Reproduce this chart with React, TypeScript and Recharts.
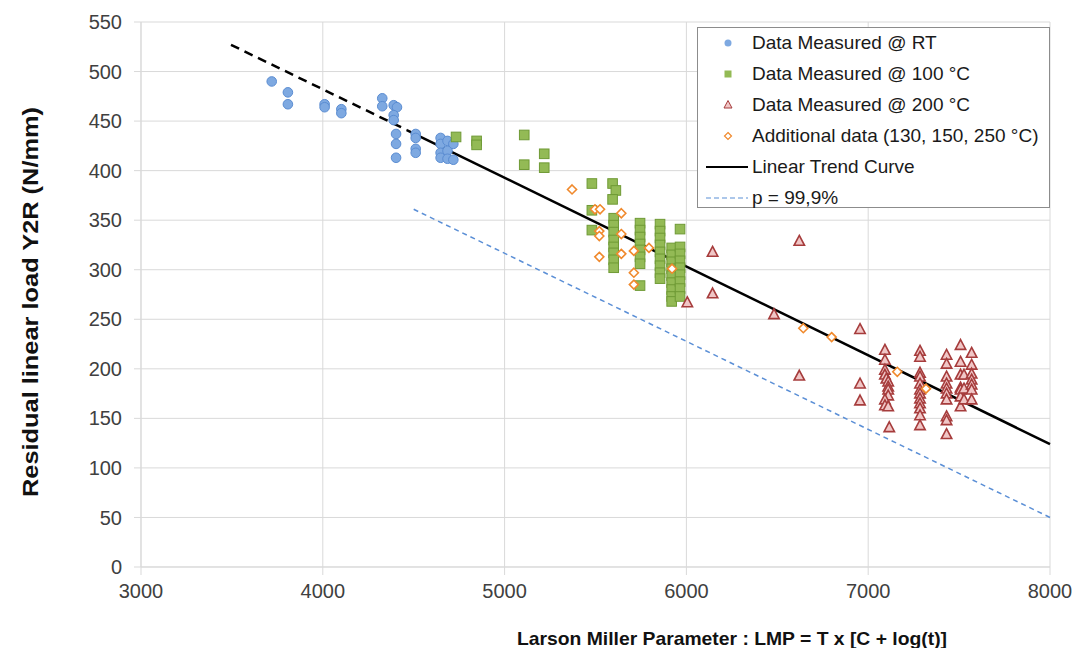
import React from 'react';
import { ScatterChart, Scatter, XAxis, YAxis, CartesianGrid, ReferenceLine } from 'recharts';

const FONT = '"Liberation Sans", Arial, sans-serif';

const xTicks = [3000, 4000, 5000, 6000, 7000, 8000];
const yTicks = [0, 50, 100, 150, 200, 250, 300, 350, 400, 450, 500, 550];

// [LMP, Y2R]
const rtData: [number, number][] = [
	[3719, 490], [3808, 479], [3808, 467], [4010, 467], [4010, 464], [4102, 462], [4102, 458],
	[4327, 473], [4327, 465], [4390, 466], [4408, 464], [4390, 456], [4390, 451],
	[4403, 437], [4403, 427], [4403, 413], [4511, 437], [4511, 433], [4511, 422], [4511, 418],
	[4648, 433], [4648, 427], [4648, 418], [4648, 413], [4686, 430], [4686, 420], [4686, 412],
	[4718, 427], [4718, 411],
];

const data100: [number, number][] = [
	[4733, 434], [4846, 430], [4846, 426], [5108, 436], [5108, 406], [5218, 417], [5218, 403],
	[5480, 387], [5480, 360], [5480, 340], [5594, 387], [5612, 380], [5594, 371],
	[5600, 352], [5600, 345], [5600, 338], [5600, 330], [5600, 323], [5600, 317], [5600, 310], [5600, 302],
	[5745, 347], [5745, 340], [5745, 333], [5745, 326], [5745, 320], [5745, 313], [5745, 306], [5745, 284],
	[5855, 346], [5855, 339], [5855, 332], [5855, 325], [5855, 318], [5855, 311], [5855, 304], [5855, 297], [5855, 291],
	[5965, 341], [5919, 322], [5919, 315], [5919, 308], [5919, 301], [5919, 294], [5919, 287], [5919, 280], [5919, 273], [5919, 268],
	[5965, 323], [5965, 316], [5965, 309], [5965, 302], [5965, 295], [5965, 288], [5965, 281], [5965, 273],
];

const data200: [number, number][] = [
	[6005, 267], [6144, 318], [6144, 276], [6621, 329], [6621, 193], [6482, 255],
	[6955, 240], [6955, 185], [6955, 168],
	[7092, 219], [7092, 209], [7092, 199], [7092, 194], [7100, 190], [7110, 187], [7110, 182], [7110, 179], [7110, 173],
	[7092, 169], [7092, 163], [7110, 162], [7116, 141],
	[7285, 218], [7285, 212], [7285, 196], [7285, 192], [7285, 185], [7285, 179], [7285, 175], [7285, 170], [7285, 165], [7285, 160], [7285, 153], [7285, 143],
	[7431, 214], [7431, 205], [7431, 192], [7431, 185], [7431, 180], [7431, 175], [7431, 169], [7431, 152], [7431, 148], [7431, 134],
	[7508, 224], [7508, 207], [7508, 194], [7508, 181], [7508, 179], [7508, 172], [7508, 162],
	[7527, 194], [7527, 180], [7527, 169],
	[7569, 216], [7569, 204], [7569, 195], [7569, 189], [7569, 184], [7569, 179], [7569, 169],
];

const additionalData: [number, number][] = [
	[5371, 381], [5497, 361], [5525, 361], [5642, 357], [5521, 339], [5521, 334], [5642, 336],
	[5521, 313], [5642, 316], [5711, 319], [5794, 322], [5711, 297], [5711, 285], [5921, 301],
	[6643, 241], [6799, 232], [7160, 197], [7318, 180],
];

const trendDashed: [number, number][] = [[3495, 527], [4462, 441]];
const trendSolid: [number, number][] = [[4462, 441], [8000, 124]];
const p999Line: [number, number][] = [[4500, 361], [8000, 50]];

const toPts = (arr: [number, number][]) => arr.map(([x, y]) => ({ x, y }));

const COL = {
	rtFill: '#7ea9e1',
	rtStroke: '#5b8dd2',
	g100Fill: '#93ba55',
	g100Stroke: '#6f9a35',
	r200Fill: '#f0c6c6',
	r200Stroke: '#a63c3c',
	addStroke: '#f0892c',
	pLine: '#5b8fd6',
};

const CircleShape = (p: any) => <circle cx={p.cx} cy={p.cy} r={4.8} fill={COL.rtFill} stroke={COL.rtStroke} strokeWidth={1} />;
const SquareShape = (p: any) => <rect x={p.cx - 4.8} y={p.cy - 4.8} width={9.6} height={9.6} fill={COL.g100Fill} stroke={COL.g100Stroke} strokeWidth={1} />;
const TriangleShape = (p: any) => (
	<path d={`M${p.cx},${p.cy - 5.5}L${p.cx + 5.2},${p.cy + 4.3}L${p.cx - 5.2},${p.cy + 4.3}Z`} fill={COL.r200Fill} stroke={COL.r200Stroke} strokeWidth={1.6} />
);
const DiamondShape = (p: any) => (
	<path d={`M${p.cx},${p.cy - 4.5}L${p.cx + 4.5},${p.cy}L${p.cx},${p.cy + 4.5}L${p.cx - 4.5},${p.cy}Z`} fill='#fff' stroke={COL.addStroke} strokeWidth={1.6} />
);

const legendRows = [
	{ label: 'Data Measured @ RT', kind: 'circle' },
	{ label: 'Data Measured @ 100 °C', kind: 'square' },
	{ label: 'Data Measured @ 200 °C', kind: 'triangle' },
	{ label: 'Additional data (130, 150, 250 °C)', kind: 'diamond' },
	{ label: 'Linear Trend Curve', kind: 'line' },
	{ label: 'p = 99,9%', kind: 'dash' },
];

const legendMarker = (kind: string) => {
	switch (kind) {
		case 'circle':
			return <circle cx={30} cy={10} r={3.5} fill={COL.rtFill} />;
		case 'square':
			return <rect x={26.5} y={6.5} width={7} height={7} fill={COL.g100Fill} />;
		case 'triangle':
			return <path d='M30,5.5L34,13L26,13Z' fill={COL.r200Fill} stroke={COL.r200Stroke} strokeWidth={1} />;
		case 'diamond':
			return <path d='M30,6.5L33.5,10L30,13.5L26.5,10Z' fill='#fff' stroke={COL.addStroke} strokeWidth={1.2} />;
		case 'line':
			return <line x1={8} y1={10} x2={50} y2={10} stroke='#000' strokeWidth={2} />;
		default:
			return <line x1={8} y1={10} x2={50} y2={10} stroke={COL.pLine} strokeWidth={1.2} strokeDasharray='5 3' />;
	}
};

// legend drawn outside recharts so it does not steal plot height
const ChartLegend = () => (
	<div
		style={{
			position: 'absolute',
			left: 697,
			top: 27,
			width: 351,
			height: 179,
			border: '1px solid #8c8c8c',
			background: '#fff',
			fontFamily: FONT,
			fontSize: 19,
			color: '#1a1a1a',
		}}
	>
		{legendRows.map((r, i) => (
			<div key={i} style={{ position: 'absolute', left: 0, top: 5 + i * 31, height: 20, display: 'flex', alignItems: 'center' }}>
				<svg width={54} height={20}>{legendMarker(r.kind)}</svg>
				<span style={{ whiteSpace: 'nowrap', lineHeight: '20px' }}>{r.label}</span>
			</div>
		))}
	</div>
);

export default function App() {
	// body margin removed, the 8px offset is kept as padding so nothing gets clipped
	return (
		<>
			<style>{'body{margin:0}'}</style>
			<div style={{ position: 'relative', width: 1077, height: 648, padding: 8, boxSizing: 'border-box', overflow: 'hidden' }}>
				<ScatterChart width={1069} height={640} margin={{ top: 14, right: 27, bottom: 21, left: 0 }}>
					<CartesianGrid stroke='#d9d9d9' />
					<XAxis
						dataKey='x'
						type='number'
						domain={[3000, 8000]}
						ticks={xTicks}
						allowDataOverflow
						height={60}
						tick={{ fill: '#404040', fontSize: 20, fontFamily: FONT }}
						tickLine={{ stroke: '#d9d9d9' }}
						axisLine={{ stroke: '#d9d9d9' }}
						tickSize={8}
						tickMargin={9}
						label={{
							content: () => (
								<text x={724} y={637} textAnchor='middle' fontFamily={FONT} fontWeight='bold' fontSize={19} fill='#111' textLength={430} lengthAdjust='spacingAndGlyphs'>
									Larson Miller Parameter : LMP = T  x [C + log(t)]
								</text>
							),
						}}
					/>
					<YAxis
						dataKey='y'
						type='number'
						domain={[0, 550]}
						ticks={yTicks}
						allowDataOverflow
						width={133}
						tick={{ fill: '#404040', fontSize: 20, fontFamily: FONT }}
						tickLine={{ stroke: '#d9d9d9' }}
						axisLine={{ stroke: '#d9d9d9' }}
						tickSize={7}
						tickMargin={12}
						label={{
							content: () => (
								<text
									x={22}
									y={294}
									transform='rotate(-90 22 294)'
									textAnchor='middle'
									dominantBaseline='central'
									fontFamily={FONT}
									fontWeight='bold'
									fontSize={22}
									fill='#111'
									textLength={390}
									lengthAdjust='spacingAndGlyphs'
								>
									Residual linear load Y2R (N/mm)
								</text>
							),
						}}
					/>
					<ReferenceLine segment={toPts(p999Line)} stroke={COL.pLine} strokeWidth={1.5} strokeDasharray='5 4' />
					<Scatter name='Data Measured @ RT' data={toPts(rtData)} shape={CircleShape} isAnimationActive={false} />
					<Scatter name='Data Measured @ 100 °C' data={toPts(data100)} shape={SquareShape} isAnimationActive={false} />
					<Scatter name='Data Measured @ 200 °C' data={toPts(data200)} shape={TriangleShape} isAnimationActive={false} />
					<Scatter name='Additional data (130, 150, 250 °C)' data={toPts(additionalData)} shape={DiamondShape} isAnimationActive={false} />
					<ReferenceLine segment={toPts(trendDashed)} stroke='#000' strokeWidth={2.5} strokeDasharray='9 6' />
					<ReferenceLine segment={toPts(trendSolid)} stroke='#000' strokeWidth={2.5} />
				</ScatterChart>
				<ChartLegend />
			</div>
		</>
	);
}
